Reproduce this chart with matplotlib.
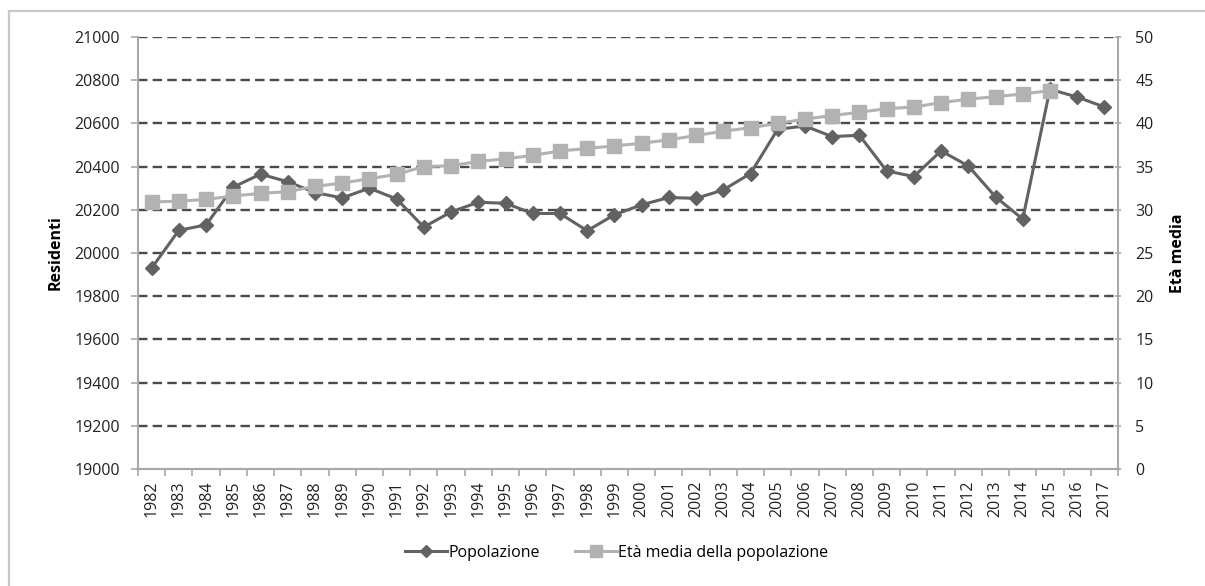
import matplotlib.pyplot as plt
from matplotlib.lines import Line2D
from matplotlib.ticker import FixedLocator

# Dati: residenti ed età media
anni = list(range(1982, 2018))
popolazione = [19930, 20105, 20130, 20305, 20365, 20330, 20280, 20255, 20300, 20250,
               20120, 20190, 20235, 20230, 20183, 20183, 20103, 20177, 20223, 20257,
               20253, 20292, 20368, 20573, 20588, 20539, 20545, 20380, 20354, 20473,
               20403, 20260, 20157, 20758, 20722, 20676]
eta_media = [30.9, 31.0, 31.2, 31.6, 31.9, 32.1, 32.7, 33.1, 33.6, 34.1,
             35.0, 35.1, 35.6, 35.9, 36.3, 36.8, 37.1, 37.4, 37.7, 38.1,
             38.6, 39.1, 39.5, 40.0, 40.5, 40.9, 41.3, 41.7, 41.9, 42.4,
             42.8, 43.1, 43.4, 43.8]

plt.rcParams['font.family'] = ['Open Sans', 'DejaVu Sans']

fig = plt.figure(figsize=(12.05, 5.86), dpi=100)
ax = fig.add_axes([138 / 1205, 1 - 469 / 586, (1118 - 138) / 1205, (469 - 37) / 586])
ax2 = ax.twinx()

x = list(range(len(anni)))
ax.plot(x, popolazione, color='#626262', lw=2.2, marker='D', markersize=7.5,
        label='Popolazione', zorder=3)
ax2.plot(x[:len(eta_media)], eta_media, color='#b2b2b2', lw=2.2, marker='s',
         markersize=9.5, label='Età media della popolazione', zorder=3)

ax.set_xlim(-0.5, len(anni) - 0.5)
ax.set_ylim(19000, 21000)
ax2.set_ylim(0, 50)
ax.set_yticks(range(19000, 21001, 200))
ax2.set_yticks(range(0, 51, 5))

# griglia tratteggiata
for v in range(19200, 21001, 200):
    ax.axhline(v, color='#4a4a4a', lw=1.7, dashes=(4.0, 2.2), zorder=1)

ax.set_xticks(x)
ax.set_xticklabels([str(a) for a in anni], rotation=90, fontsize=11.5, color='#222222')
ax.xaxis.set_minor_locator(FixedLocator([i - 0.5 for i in range(len(anni) + 1)]))
ax.tick_params(axis='x', which='major', length=0, pad=8)
ax.tick_params(axis='x', which='minor', length=5, color='#a8a8a8', width=1.2)
ax.tick_params(axis='y', length=5, color='#a8a8a8', width=1.2, labelsize=11.5,
               labelcolor='#222222', pad=8)
ax2.tick_params(axis='y', length=5, color='#a8a8a8', width=1.2, labelsize=11.5,
                labelcolor='#222222', direction='inout', pad=10)

for a in (ax, ax2):
    a.spines['top'].set_visible(False)
    for s in ('left', 'right', 'bottom'):
        a.spines[s].set_color('#a8a8a8')
        a.spines[s].set_linewidth(1.5)
ax.spines['right'].set_visible(False)
ax2.spines['left'].set_visible(False)

ax.set_ylabel('Residenti', fontsize=11.5, fontweight='bold', labelpad=8)
ax2.set_ylabel('Età media', fontsize=11.5, fontweight='bold', labelpad=12)

h1, l1 = ax.get_legend_handles_labels()
h2, l2 = ax2.get_legend_handles_labels()
fig.legend(h1 + h2, l1 + l2, loc='center', bbox_to_anchor=(617 / 1205, 1 - 553 / 586),
           ncol=2, frameon=False, fontsize=11.5, handlelength=2.6, handletextpad=0.1,
           columnspacing=2.2, markerscale=0.85)

# cornice del grafico
fig.add_artist(Line2D([9 / 1205, 9 / 1205], [0, 1 - 11 / 586], color='#c8c8c8', lw=1.6))
fig.add_artist(Line2D([9 / 1205, 1], [1 - 11 / 586, 1 - 11 / 586], color='#c8c8c8', lw=1.6))

fig.savefig('out.png', dpi=100)
